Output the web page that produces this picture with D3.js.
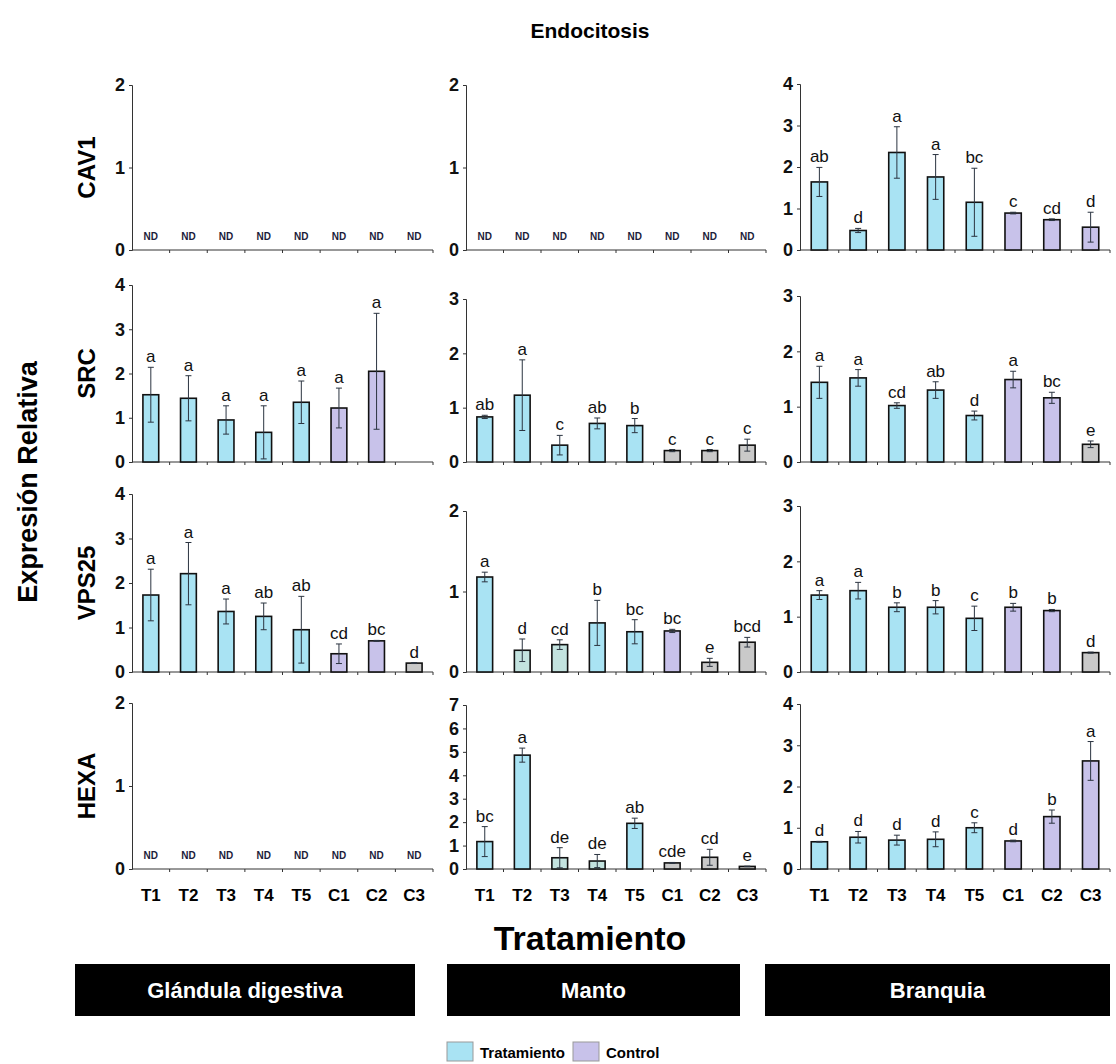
<!DOCTYPE html>
<html>
<head>
<meta charset="utf-8">
<script src="https://cdn.jsdelivr.net/npm/d3@7"></script>
<style>
  body { margin: 0; background: #fff; }
  svg { display: block; font-family: 'Liberation Sans', Arial, sans-serif; }
  .bar { stroke: #111; stroke-width: 1.6px; }
  .err { stroke: #2b3440; stroke-width: 1px; fill: none; }
  .axis path, .axis line { stroke: #333; stroke-width: 1px; }
  .axis text { font-size: 18px; font-weight: bold; fill: #111; }
  .letter { font-size: 17px; text-anchor: middle; fill: #111; }
  .nd { font-size: 10px; font-weight: bold; text-anchor: middle; fill: #1c1c3a; }
</style>
</head>
<body>
<div id="chart"></div>
<script>
//data
const groups = ['T1', 'T2', 'T3', 'T4', 'T5', 'C1', 'C2', 'C3']
const tissues = ['Glándula digestiva', 'Manto', 'Branquia']
const genes = ['CAV1', 'SRC', 'VPS25', 'HEXA']
const yMax = [[2, 2, 4], [4, 3, 3], [4, 2, 3], [2, 7, 4]]

// one entry per tissue, null = ND
const CAV1_mean = [null, null, [1.64, 0.47, 2.35, 1.76, 1.15, 0.89, 0.73, 0.55]]
const CAV1_err = [null, null, [0.35, 0.05, 0.62, 0.54, 0.82, 0.02, 0.02, 0.36]]
const CAV1_letters = [null, null, ['ab', 'd', 'a', 'a', 'bc', 'c', 'cd', 'd']]
const CAV1_fill = [null, null, ['t', 't', 't', 't', 't', 'c', 'c', 'c']]

const SRC_mean = [
  [1.52, 1.44, 0.95, 0.67, 1.35, 1.22, 2.05, null],
  [0.83, 1.23, 0.31, 0.71, 0.67, 0.21, 0.21, 0.31],
  [1.44, 1.52, 1.02, 1.30, 0.84, 1.49, 1.16, 0.32]]
const SRC_err = [
  [0.62, 0.51, 0.32, 0.60, 0.48, 0.45, 1.31, null],
  [0.03, 0.65, 0.18, 0.10, 0.13, 0.02, 0.02, 0.11],
  [0.29, 0.15, 0.05, 0.15, 0.08, 0.15, 0.10, 0.06]]
const SRC_letters = [
  ['a', 'a', 'a', 'a', 'a', 'a', 'a', ''],
  ['ab', 'a', 'c', 'ab', 'b', 'c', 'c', 'c'],
  ['a', 'a', 'cd', 'ab', 'd', 'a', 'bc', 'e']]
const SRC_fill = [
  ['t', 't', 't', 't', 't', 'c', 'c', 'c'],
  ['t', 't', 't', 't', 't', 'g', 'g', 'g'],
  ['t', 't', 't', 't', 't', 'c', 'c', 'g']]

const VPS25_mean = [
  [1.73, 2.21, 1.36, 1.25, 0.95, 0.41, 0.70, 0.20],
  [1.18, 0.27, 0.34, 0.61, 0.50, 0.51, 0.12, 0.37],
  [1.39, 1.47, 1.17, 1.17, 0.97, 1.17, 1.11, 0.35]]
const VPS25_err = [
  [0.58, 0.70, 0.28, 0.30, 0.75, 0.22, 0.01, 0.01],
  [0.06, 0.14, 0.06, 0.28, 0.15, 0.02, 0.05, 0.06],
  [0.08, 0.15, 0.08, 0.12, 0.22, 0.07, 0.02, 0.01]]
const VPS25_letters = [
  ['a', 'a', 'a', 'ab', 'ab', 'cd', 'bc', 'd'],
  ['a', 'd', 'cd', 'b', 'bc', 'bc', 'e', 'bcd'],
  ['a', 'a', 'b', 'b', 'c', 'b', 'b', 'd']]
const VPS25_fill = [
  ['t', 't', 't', 't', 't', 'c', 'c', 'g'],
  ['t', 'm', 'm', 't', 't', 'c', 'g', 'g'],
  ['t', 't', 't', 't', 't', 'c', 'c', 'g']]

const HEXA_mean = [null,
  [1.17, 4.86, 0.48, 0.34, 1.95, 0.26, 0.50, 0.11],
  [0.66, 0.77, 0.70, 0.72, 1.00, 0.68, 1.27, 2.62]]
const HEXA_err = [null,
  [0.64, 0.30, 0.43, 0.28, 0.22, 0.02, 0.34, 0.01],
  [0.01, 0.14, 0.12, 0.18, 0.12, 0.02, 0.16, 0.47]]
const HEXA_letters = [null,
  ['bc', 'a', 'de', 'de', 'ab', 'cde', 'cd', 'e'],
  ['d', 'd', 'd', 'd', 'c', 'd', 'b', 'a']]
const HEXA_fill = [null,
  ['t', 't', 'm', 'm', 't', 'g', 'g', 'g'],
  ['t', 't', 't', 't', 't', 'c', 'c', 'c']]

const legendKeys = ['Tratamiento', 'Control']

//layout
const
  width = 1116,
  height = 1064,
  colX = [[132, 433], [466, 766], [800, 1110]],
  rowBase = [250, 462, 672, 869],
  panelTop = [[85, 85, 84], [285, 299, 296], [494, 511, 506], [703, 705, 704]],
  barRatio = 0.42,
  capW = 3

const colors = { t: '#a9e3f3', c: '#c8c2ea', g: '#c9c9c9', m: '#c3e3df' }

const series = {
  CAV1: [CAV1_mean, CAV1_err, CAV1_letters, CAV1_fill],
  SRC: [SRC_mean, SRC_err, SRC_letters, SRC_fill],
  VPS25: [VPS25_mean, VPS25_err, VPS25_letters, VPS25_fill],
  HEXA: [HEXA_mean, HEXA_err, HEXA_letters, HEXA_fill]
}

const svg = d3.select('#chart').append('svg')
  .attr('width', width)
  .attr('height', height)

//title
svg.append('text')
  .attr('x', 590).attr('y', 38)
  .attr('text-anchor', 'middle')
  .style('font-size', '21px').style('font-weight', 'bold')
  .text('Endocitosis')

//y label
svg.append('text')
  .attr('transform', 'translate(37,482) rotate(-90)')
  .attr('text-anchor', 'middle')
  .style('font-size', '27px').style('font-weight', 'bold')
  .text('Expresión Relativa')

genes.forEach((gene, r) => {
  const [means, errs, letters, fills] = series[gene]

  //gene label
  svg.append('text')
    .attr('transform', 'translate(95,' + (rowBase[r] + panelTop[r][0]) / 2 + ') rotate(-90)')
    .attr('text-anchor', 'middle')
    .style('font-size', '24px').style('font-weight', 'bold')
    .text(gene)

  tissues.forEach((tissue, c) => {
    const x = d3.scaleBand().domain(groups).range(colX[c])
    const y = d3.scaleLinear().domain([0, yMax[r][c]]).range([rowBase[r], panelTop[r][c]])
    const bw = x.bandwidth() * barRatio
    const g = svg.append('g')

    //y axis
    g.append('g')
      .attr('class', 'axis')
      .attr('transform', 'translate(' + colX[c][0] + ',0)')
      .call(d3.axisLeft(y).ticks(yMax[r][c]).tickSize(3).tickPadding(4).tickFormat(d3.format('d')))

    //x axis line + boundary ticks
    g.append('line')
      .attr('x1', colX[c][0]).attr('x2', colX[c][1])
      .attr('y1', y(0)).attr('y2', y(0))
      .attr('stroke', '#333')
    g.selectAll('.xt')
      .data(groups)
      .enter()
      .append('line')
      .attr('x1', d => x(d) + x.bandwidth()).attr('x2', d => x(d) + x.bandwidth())
      .attr('y1', y(0)).attr('y2', y(0) + 3)
      .attr('stroke', '#333')

    if (r === genes.length - 1) {
      g.selectAll('.xl')
        .data(groups)
        .enter()
        .append('text')
        .attr('x', d => x(d) + x.bandwidth() / 2)
        .attr('y', y(0) + 32)
        .attr('text-anchor', 'middle')
        .style('font-size', '17px').style('font-weight', 'bold')
        .text(d => d)
    }

    if (!means[c]) {
      g.selectAll('.nd')
        .data(groups)
        .enter()
        .append('text')
        .attr('class', 'nd')
        .attr('x', d => x(d) + x.bandwidth() / 2)
        .attr('y', y(0) - 10)
        .text('ND')
      return
    }

    const rows = groups.map((k, i) => ({
      key: k, v: means[c][i], e: errs[c][i], l: letters[c][i], f: fills[c][i]
    })).filter(d => d.v != null)

    //bars
    g.selectAll('.bar')
      .data(rows)
      .enter()
      .append('rect')
      .attr('class', 'bar')
      .attr('x', d => x(d.key) + (x.bandwidth() - bw) / 2)
      .attr('width', bw)
      .attr('y', d => y(d.v))
      .attr('height', d => y(0) - y(d.v))
      .attr('fill', d => colors[d.f])

    //error bars
    g.selectAll('.eg')
      .data(rows)
      .enter()
      .append('path')
      .attr('class', 'err')
      .attr('d', d => {
        const cx = x(d.key) + x.bandwidth() / 2
        const y1 = y(d.v + d.e), y0 = y(Math.max(0, d.v - d.e))
        return 'M' + cx + ',' + y0 + 'V' + y1 +
          'M' + (cx - capW) + ',' + y1 + 'H' + (cx + capW) +
          'M' + (cx - capW) + ',' + y0 + 'H' + (cx + capW)
      })

    //letters
    g.selectAll('.letter')
      .data(rows)
      .enter()
      .append('text')
      .attr('class', 'letter')
      .attr('x', d => x(d.key) + x.bandwidth() / 2)
      .attr('y', d => y(d.v + d.e) - 5)
      .text(d => d.l)
  })
})

//x title
svg.append('text')
  .attr('x', 590).attr('y', 950)
  .attr('text-anchor', 'middle')
  .style('font-size', '34px').style('font-weight', 'bold')
  .text('Tratamiento')

//tissue boxes
const boxX = [[75, 415], [447, 740], [765, 1110]]
tissues.forEach((t, i) => {
  svg.append('rect')
    .attr('x', boxX[i][0]).attr('y', 964)
    .attr('width', boxX[i][1] - boxX[i][0]).attr('height', 52)
    .attr('fill', '#000')
  svg.append('text')
    .attr('x', (boxX[i][0] + boxX[i][1]) / 2).attr('y', 998)
    .attr('text-anchor', 'middle')
    .attr('fill', '#fff')
    .style('font-size', '22px').style('font-weight', 'bold')
    .text(t)
})

//legend
const legX = [447, 573]
legendKeys.forEach((k, i) => {
  svg.append('rect')
    .attr('x', legX[i]).attr('y', 1042)
    .attr('width', 26).attr('height', 19)
    .attr('fill', i ? colors.c : colors.t)
    .attr('stroke', '#999')
  svg.append('text')
    .attr('x', legX[i] + 33).attr('y', 1058)
    .style('font-size', '15px').style('font-weight', 'bold')
    .text(k)
})
</script>
</body>
</html>
